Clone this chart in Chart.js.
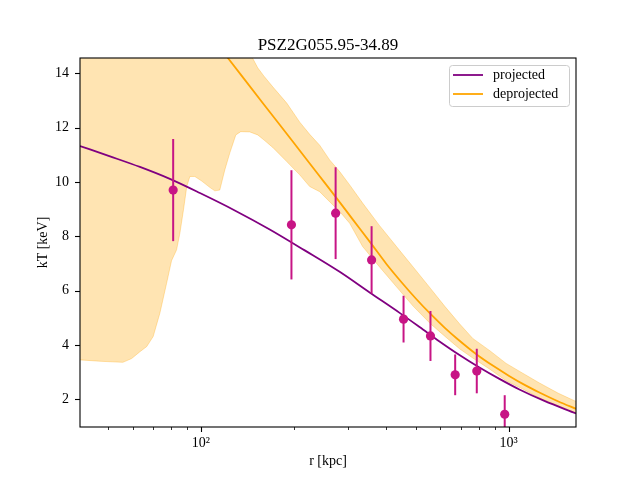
<!DOCTYPE html>
<html>
<head>
<meta charset="utf-8">
<script src="https://cdn.jsdelivr.net/npm/chart.js@4"></script>
<style>
  html, body { margin: 0; padding: 0; background: #fff; }
  canvas { display: block; }
</style>
</head>
<body>
<canvas id="chart" width="640" height="480"></canvas>
<script>
const chartTitle = 'PSZ2G055.95-34.89';
const xLabel = 'r [kpc]';
const yLabel = 'kT [keV]';

// measured temperatures with 1-sigma errors
const ptR = [81.3, 196.9, 274, 358.6, 455.4, 557, 670, 787.5, 970.5];
const ptT = [9.70, 8.42, 8.85, 7.13, 4.95, 4.33, 2.90, 3.04, 1.45];
const ptErr = [1.88, 2.01, 1.69, 1.24, 0.86, 0.92, 0.75, 0.82, 0.70];

// projected model
const projR = [40.5, 50.7, 63.4, 79.3, 99.3, 128.9, 167.4, 217.5, 282.4, 353.4, 442.2, 513.3, 596, 692, 803.5, 932.8, 1083, 1306, 1654];
const projT = [11.32, 10.94, 10.55, 10.11, 9.59, 8.95, 8.25, 7.48, 6.69, 5.93, 5.18, 4.66, 4.13, 3.63, 3.17, 2.75, 2.36, 1.94, 1.48];

// deprojected model
const deprojR = [100, 122.6, 160, 200, 240, 274, 310, 358, 400, 450, 500, 557, 620, 680, 787, 890, 1003, 1130, 1258, 1450, 1654];
const deprojT = [15.84, 14.55, 12.86, 11.45, 10.29, 9.45, 8.65, 7.72, 6.99, 6.29, 5.70, 5.14, 4.63, 4.23, 3.65, 3.23, 2.86, 2.52, 2.25, 1.92, 1.65];

// deprojected uncertainty band
const bandR = [40.5, 47, 55.8, 59.6, 63.4, 66.7, 70, 73.6, 77.4, 80.3, 83.4, 85.5, 87.8, 90, 92.1, 95.6, 100.7, 106.9, 111, 115.2, 119.6, 124.2, 129.9, 134.8, 144.2, 153, 160.1, 171.2, 190.1, 209.5, 225.7, 243.2, 262, 282.4, 304.3, 335.4, 380, 432, 490, 557, 620, 692, 764, 870, 981, 1110, 1258, 1450, 1654];
const bandLo = [3.45, 3.40, 3.36, 3.50, 3.75, 3.94, 4.31, 5.17, 6.27, 7.10, 7.50, 8.12, 8.97, 9.83, 10.20, 10.20, 10.03, 9.80, 9.67, 9.70, 10.44, 11.07, 11.73, 11.85, 11.84, 11.73, 11.55, 11.27, 10.75, 10.26, 9.83, 9.64, 9.27, 8.91, 8.48, 7.62, 6.88, 6.14, 5.42, 4.78, 4.32, 3.86, 3.52, 3.10, 2.68, 2.38, 2.05, 1.76, 1.50];
const bandHi = [24.0, 23.8, 23.5, 23.3, 23.0, 22.8, 22.5, 22.2, 21.8, 21.5, 21.2, 21.0, 20.8, 20.6, 20.4, 20.0, 19.5, 18.7, 18.2, 17.6, 17.0, 16.4, 15.8, 15.3, 14.75, 14.2, 13.9, 13.5, 12.9, 12.2, 11.75, 11.35, 10.81, 10.38, 9.89, 9.22, 8.40, 7.62, 6.86, 6.08, 5.42, 4.78, 4.24, 3.78, 3.32, 2.96, 2.60, 2.22, 1.92];

const xMajor = [100, 1000];
const xMinor = [50, 60, 70, 80, 90, 200, 300, 400, 500, 600, 700, 800, 900];
const yTicks = [2, 4, 6, 8, 10, 12, 14];
const legendLabels = ['projected', 'deprojected'];

const FONT = '"Liberation Serif", "DejaVu Serif", serif';
const PURPLE = '#800080';
const ORANGE = '#ffa500';
const POINT = '#c71585';
const BAND = 'rgba(255, 165, 0, 0.3)';

const toXY = (xs, ys) => xs.map((x, i) => ({x, y: ys[i]}));

const decor = {
	id: 'decor',
	beforeDatasetDraw(chart, args) {
		if (args.index !== 0) return;
		const {ctx, chartArea: a, scales: {x, y}} = chart;
		ctx.save();
		ctx.beginPath();
		ctx.rect(a.left, a.top, a.right - a.left, a.bottom - a.top);
		ctx.clip();
		ctx.strokeStyle = POINT;
		ctx.lineWidth = 2;
		ptR.forEach((r, i) => {
			const px = x.getPixelForValue(r);
			ctx.beginPath();
			ctx.moveTo(px, y.getPixelForValue(ptT[i] - ptErr[i]));
			ctx.lineTo(px, y.getPixelForValue(ptT[i] + ptErr[i]));
			ctx.stroke();
		});
		ctx.restore();
	},
	afterDraw(chart) {
		const {ctx, chartArea: a, scales: {x, y}} = chart;
		ctx.save();
		ctx.strokeStyle = '#000';

		// tick marks
		ctx.lineWidth = 1.1;
		xMajor.forEach(v => {
			const px = Math.round(x.getPixelForValue(v)) + 0.5;
			ctx.beginPath(); ctx.moveTo(px, a.bottom); ctx.lineTo(px, a.bottom + 5); ctx.stroke();
		});
		yTicks.forEach(v => {
			const py = Math.round(y.getPixelForValue(v)) + 0.5;
			ctx.beginPath(); ctx.moveTo(a.left, py); ctx.lineTo(a.left - 5, py); ctx.stroke();
		});
		ctx.lineWidth = 0.8;
		xMinor.forEach(v => {
			const px = Math.round(x.getPixelForValue(v)) + 0.5;
			ctx.beginPath(); ctx.moveTo(px, a.bottom); ctx.lineTo(px, a.bottom + 3); ctx.stroke();
		});

		// frame
		ctx.lineWidth = 1.1;
		ctx.strokeRect(a.left, a.top, a.right - a.left, a.bottom - a.top);

		// title
		ctx.fillStyle = '#000';
		ctx.font = '17px ' + FONT;
		ctx.textAlign = 'center';
		ctx.textBaseline = 'alphabetic';
		ctx.fillText(chartTitle, (a.left + a.right) / 2, 50);

		// legend
		const lx = 449.5, ly = 65.5, lw = 120, lh = 41;
		ctx.beginPath();
		ctx.roundRect(lx, ly, lw, lh, 3);
		ctx.fillStyle = 'rgba(255, 255, 255, 0.8)';
		ctx.fill();
		ctx.strokeStyle = '#cccccc';
		ctx.lineWidth = 1;
		ctx.stroke();
		[PURPLE, ORANGE].forEach((c, i) => {
			const yy = 75 + i * 19;
			ctx.strokeStyle = c;
			ctx.lineWidth = 1.8;
			ctx.beginPath(); ctx.moveTo(453, yy); ctx.lineTo(483, yy); ctx.stroke();
			ctx.fillStyle = '#000';
			ctx.font = '14px ' + FONT;
			ctx.textAlign = 'left';
			ctx.textBaseline = 'middle';
			ctx.fillText(legendLabels[i], 493, yy);
		});
		ctx.restore();
	}
};

new Chart(document.getElementById('chart'), {
	type: 'scatter',
	data: {
		datasets: [{
			label: 'data',
			data: toXY(ptR, ptT),
			backgroundColor: POINT,
			borderColor: POINT,
			borderWidth: 0,
			pointRadius: 4.6,
			order: 0
		}, {
			label: legendLabels[0],
			data: toXY(projR, projT),
			showLine: true,
			borderColor: PURPLE,
			borderWidth: 1.8,
			pointRadius: 0,
			cubicInterpolationMode: 'monotone',
			order: 1
		}, {
			label: legendLabels[1],
			data: toXY(deprojR, deprojT),
			showLine: true,
			borderColor: ORANGE,
			borderWidth: 1.8,
			pointRadius: 0,
			cubicInterpolationMode: 'monotone',
			order: 2
		}, {
			label: 'upper',
			data: toXY(bandR, bandHi),
			showLine: true,
			borderColor: BAND,
			borderWidth: 1,
			backgroundColor: BAND,
			pointRadius: 0,
			fill: '+1',
			order: 3
		}, {
			label: 'lower',
			data: toXY(bandR, bandLo),
			showLine: true,
			borderColor: BAND,
			borderWidth: 1,
			pointRadius: 0,
			fill: false,
			order: 4
		}]
	},
	options: {
		responsive: false,
		animation: false,
		devicePixelRatio: 1,
		layout: {padding: {top: 58, right: 64, bottom: 0, left: 0}},
		plugins: {
			legend: {display: false},
			title: {display: false},
			tooltip: {enabled: false}
		},
		scales: {
			x: {
				type: 'logarithmic',
				min: 40.5,
				max: 1654,
				afterFit: s => { s.height = 53; },
				afterBuildTicks: s => {
					s.ticks = xMinor.concat(xMajor).sort((a, b) => a - b).map(v => ({value: v}));
				},
				border: {display: false},
				grid: {drawOnChartArea: false, tickLength: 5, tickColor: 'rgba(0,0,0,0)'},
				ticks: {
					autoSkip: false,
					maxRotation: 0,
					padding: 3,
					color: '#000',
					font: {family: FONT, size: 14},
					callback: v => v === 100 ? '10²' : v === 1000 ? '10³' : ''
				},
				title: {
					display: true,
					text: xLabel,
					color: '#000',
					font: {family: FONT, size: 14},
					padding: {top: 0, bottom: 10.6}
				}
			},
			y: {
				min: 0.98,
				max: 14.56,
				afterFit: s => { s.width = 80; },
				afterBuildTicks: s => { s.ticks = yTicks.map(v => ({value: v})); },
				border: {display: false},
				grid: {drawOnChartArea: false, tickLength: 5, tickColor: 'rgba(0,0,0,0)'},
				ticks: {
					padding: 6,
					color: '#000',
					font: {family: FONT, size: 14}
				},
				title: {
					display: true,
					text: yLabel,
					color: '#000',
					font: {family: FONT, size: 14},
					padding: {top: 35, bottom: 0}
				}
			}
		}
	},
	plugins: [decor]
});
</script>
</body>
</html>
